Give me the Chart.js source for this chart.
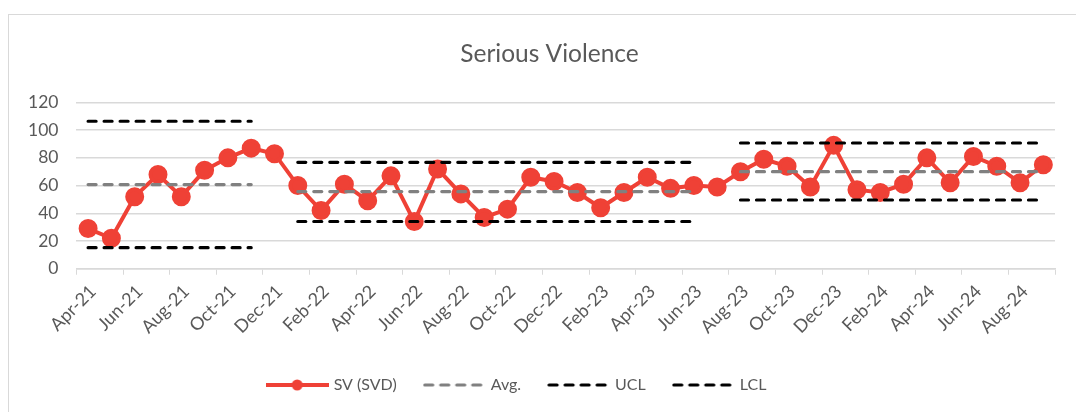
<!DOCTYPE html>
<html>
<head>
<meta charset="utf-8">
<script src="https://cdn.jsdelivr.net/npm/chart.js@4/dist/chart.umd.min.js"></script>
<style>
  html, body { margin: 0; padding: 0; background: #fff; overflow: hidden; }
  #frame { position: absolute; left: 8px; top: 14px; width: 1200px; height: 500px; border: 1.5px solid #d9d9d9; }
  #wrap { position: absolute; left: 0; top: 0; width: 1076px; height: 412px; }
</style>
</head>
<body>
<div id="frame"></div>
<div id="wrap"><canvas id="chart" width="1076" height="412"></canvas></div>
<script>
// months Apr-21 .. Sep-24
const months = [
  'Apr-21','May-21','Jun-21','Jul-21','Aug-21','Sep-21','Oct-21','Nov-21','Dec-21',
  'Jan-22','Feb-22','Mar-22','Apr-22','May-22','Jun-22','Jul-22','Aug-22','Sep-22','Oct-22','Nov-22','Dec-22',
  'Jan-23','Feb-23','Mar-23','Apr-23','May-23','Jun-23','Jul-23','Aug-23','Sep-23','Oct-23','Nov-23','Dec-23',
  'Jan-24','Feb-24','Mar-24','Apr-24','May-24','Jun-24','Jul-24','Aug-24','Sep-24'
];

const svd = [
  29, 22, 52, 68, 52, 71, 80, 87, 83,
  60, 42, 61, 49, 67, 34, 72, 54, 37, 43, 66, 63,
  55, 44, 55, 66, 58, 60, 59, 70, 79, 74, 59, 89,
  57, 55, 61, 80, 62, 81, 74, 62, 75
];

// control limits per period (null = no line)
const avg = [
  60.7, 60.7, 60.7, 60.7, 60.7, 60.7, 60.7, 60.7, null,
  55.7, 55.7, 55.7, 55.7, 55.7, 55.7, 55.7, 55.7, 55.7, 55.7, 55.7, 55.7,
  55.7, 55.7, 55.7, 55.7, 55.7, 55.7, null, 70, 70, 70, 70, 70,
  70, 70, 70, 70, 70, 70, 70, 70, 70
];
const ucl = [
  106.4, 106.4, 106.4, 106.4, 106.4, 106.4, 106.4, 106.4, null,
  76.8, 76.8, 76.8, 76.8, 76.8, 76.8, 76.8, 76.8, 76.8, 76.8, 76.8, 76.8,
  76.8, 76.8, 76.8, 76.8, 76.8, 76.8, null, 90.7, 90.7, 90.7, 90.7, 90.7,
  90.7, 90.7, 90.7, 90.7, 90.7, 90.7, 90.7, 90.7, 90.7
];
const lcl = [
  15.2, 15.2, 15.2, 15.2, 15.2, 15.2, 15.2, 15.2, null,
  34.1, 34.1, 34.1, 34.1, 34.1, 34.1, 34.1, 34.1, 34.1, 34.1, 34.1, 34.1,
  34.1, 34.1, 34.1, 34.1, 34.1, 34.1, null, 49.6, 49.6, 49.6, 49.6, 49.6,
  49.6, 49.6, 49.6, 49.6, 49.6, 49.6, 49.6, 49.6, 49.6
];

const yTicks = [0, 20, 40, 60, 80, 100, 120];

const RED = '#EF4136';
const TXT = '#595959';
const GRID = '#d9d9d9';
const FONT = 'Lato, "Open Sans", sans-serif';

function limitSet(label, data, color) {
  return {
    label: label,
    data: data,
    borderColor: color,
    backgroundColor: color,
    borderWidth: 3.2,
    borderDash: [8, 8],
    borderCapStyle: 'round',
    pointRadius: 0,
    pointHoverRadius: 0,
    spanGaps: false,
    fill: false
  };
}

// small legend swatch: a line (dashed or not), with a dot for the data series
function swatch(ds) {
  const c = document.createElement('canvas');
  c.width = 63; c.height = 14;
  const g = c.getContext('2d');
  g.strokeStyle = ds.borderColor;
  g.lineWidth = ds.borderWidth;
  g.lineCap = ds.borderCapStyle || 'butt';
  g.setLineDash(ds.borderDash || []);
  g.beginPath();
  g.moveTo(ds.borderDash ? 2 : 0, 7);
  g.lineTo(ds.borderDash ? 61 : 63, 7);
  g.stroke();
  if (ds.pointRadius) {
    g.fillStyle = ds.borderColor;
    g.beginPath();
    g.arc(31.5, 7, 5.5, 0, Math.PI * 2);
    g.fill();
  }
  return c;
}

// excel centres title and legend slightly differently than chart.js
const shiftBlocks = {
  id: 'shiftBlocks',
  afterLayout(chart) {
    const lg = chart.legend;
    if (lg) { lg.left -= 15; lg.right -= 15; }
    const t = chart.titleBlock;
    if (t) { t.left += 17; t.right += 17; }
  }
};

// datasets listed last-to-first so the SV line sits under the limit lines
new Chart(document.getElementById('chart'), {
  type: 'line',
  data: {
    labels: months,
    datasets: [
      limitSet('LCL', lcl, '#000000'),
      limitSet('UCL', ucl, '#000000'),
      limitSet('Avg.', avg, '#808080'),
      {
        label: 'SV (SVD)',
        data: svd,
        borderColor: RED,
        backgroundColor: RED,
        borderWidth: 4,
        pointRadius: 7.5,
        pointHoverRadius: 7.5,
        pointBackgroundColor: RED,
        pointBorderColor: RED,
        tension: 0,
        fill: false
      }
    ]
  },
  options: {
    responsive: false,
    animation: false,
    devicePixelRatio: 1,
    layout: { padding: { left: 10, right: 21, top: 0, bottom: 9 } },
    plugins: {
      title: {
        display: true,
        text: 'Serious Violence',
        color: TXT,
        font: { family: FONT, size: 24.5, weight: 'normal' },
        padding: { top: 39, bottom: 34 }
      },
      legend: {
        display: true,
        position: 'bottom',
        reverse: true,
        title: { display: true, text: ' ', font: { size: 1 }, padding: { top: 3, bottom: 0 } },
        labels: {
          color: TXT,
          font: { family: FONT, size: 16 },
          usePointStyle: true,
          pointStyleWidth: 57,
          padding: 29,
          generateLabels(chart) {
            const items = Chart.defaults.plugins.legend.labels.generateLabels(chart);
            items.forEach(it => {
              it.pointStyle = swatch(chart.data.datasets[it.datasetIndex]);
            });
            return items;
          }
        }
      },
      tooltip: { enabled: false }
    },
    scales: {
      x: {
        offset: true,
        grid: {
          offset: true,
          drawOnChartArea: false,
          drawTicks: true,
          tickLength: 6,
          color: c => (c.index === undefined || c.index % 2 === 0) ? GRID : 'rgba(0,0,0,0)'
        },
        border: { display: true, color: GRID, width: 1.5 },
        ticks: {
          autoSkip: false,
          minRotation: 45,
          maxRotation: 45,
          color: TXT,
          padding: 6,
          labelOffset: 5,
          font: { family: FONT, size: 18 },
          callback: function (v, i) { return i % 2 === 0 ? months[i] : ''; }
        }
      },
      y: {
        min: 0,
        max: 120,
        afterBuildTicks: s => { s.ticks = yTicks.map(v => ({ value: v })); },
        grid: { color: GRID, lineWidth: 1.5, drawTicks: false },
        border: { display: false },
        ticks: {
          color: TXT,
          padding: 18,
          font: { family: FONT, size: 17.5 }
        }
      }
    }
  },
  plugins: [shiftBlocks]
});
</script>
</body>
</html>
